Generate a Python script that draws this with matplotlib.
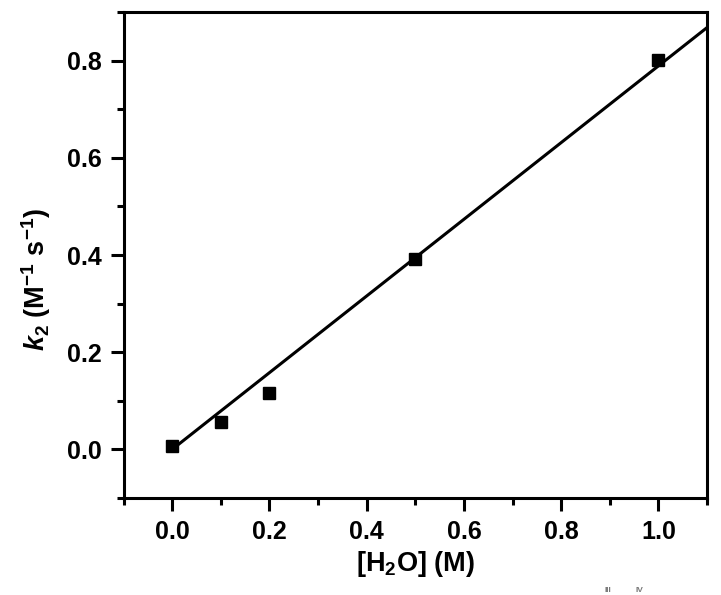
import numpy as np
import matplotlib
matplotlib.use("Agg")
import matplotlib.pyplot as plt
from matplotlib.ticker import MultipleLocator

# =============================================================================
# DATA
# =============================================================================
water_M = [0.0, 0.1, 0.2, 0.5, 1.0]
k2 = [0.007, 0.056, 0.116, 0.392, 0.801]

plt.rcParams["font.family"] = ["Liberation Sans", "DejaVu Sans"]
plt.rcParams["font.weight"] = "bold"
plt.rcParams["mathtext.fontset"] = "custom"
plt.rcParams["mathtext.rm"] = "Liberation Sans:bold"
plt.rcParams["mathtext.it"] = "Liberation Sans:italic:bold"
plt.rcParams["mathtext.bf"] = "Liberation Sans:bold"


def plot_k2(x, y):
    x = np.asarray(x)
    y = np.asarray(y)

    # linear fit through the origin
    slope = np.sum(x * y) / np.sum(x * x)
    x_fit = np.array([0.0, 1.1])

    fig = plt.figure(figsize=(7.21, 5.95), dpi=100)
    ax = fig.add_axes([0.1713, 0.163, 0.8093, 0.8168])

    ax.plot(x_fit, slope * x_fit, color="black", lw=2.2, zorder=2, clip_on=True)
    ax.plot(x, y, linestyle="none", marker="s", markersize=8.5,
            color="black", zorder=3)

    ax.set_xlim(-0.1, 1.1)
    ax.set_ylim(-0.1, 0.9)
    ax.xaxis.set_minor_locator(MultipleLocator(0.1))
    ax.yaxis.set_minor_locator(MultipleLocator(0.1))
    ax.set_xticks([0.0, 0.2, 0.4, 0.6, 0.8, 1.0])
    ax.set_yticks([0.0, 0.2, 0.4, 0.6, 0.8])

    for s in ax.spines.values():
        s.set_linewidth(2.2)
    ax.tick_params(which="major", direction="out", length=9.5, width=2.2,
                   labelsize=18, pad=6, top=False, right=False)
    ax.tick_params(which="minor", direction="out", length=5, width=2.2,
                   top=False, right=False)
    for lab in ax.get_xticklabels() + ax.get_yticklabels():
        lab.set_fontweight("bold")

    ax.set_xlabel(r"[H$_2$O] (M)", fontsize=19.5, fontweight="bold", labelpad=4)
    ax.set_ylabel(r"$k_2$ (M$^{-1}$ s$^{-1}$)", fontsize=19.5,
                  fontweight="bold")
    ax.yaxis.set_label_coords(-0.12, 0.45)

    # cropped caption fragments at the bottom edge
    fig.text(0.838, 0.002, "III", fontsize=6, color="#777777", va="bottom")
    fig.text(0.882, 0.002, "IV", fontsize=6, color="#777777", va="bottom")

    fig.savefig("out.png", dpi=100)


if __name__ == "__main__":
    plot_k2(water_M, k2)
